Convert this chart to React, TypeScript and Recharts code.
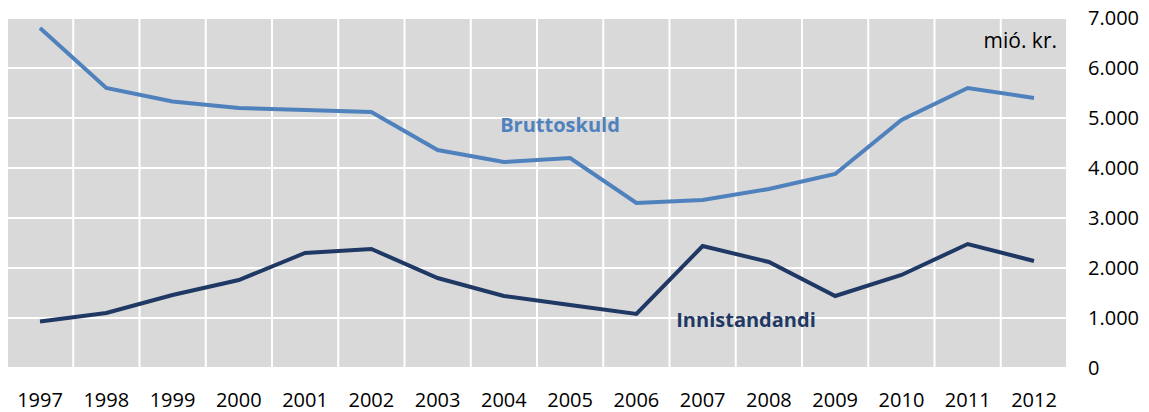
import { LineChart, Line, XAxis, YAxis, CartesianGrid } from "recharts";

const years = ["1997", "1998", "1999", "2000", "2001", "2002", "2003", "2004", "2005", "2006", "2007", "2008", "2009", "2010", "2011", "2012"];
const bruttoskuld = [6800, 5600, 5330, 5200, 5160, 5120, 4360, 4120, 4200, 3300, 3360, 3580, 3880, 4960, 5600, 5400];
const innistandandi = [930, 1100, 1460, 1760, 2300, 2380, 1800, 1440, 1260, 1080, 2440, 2120, 1440, 1860, 2480, 2140];
const yTicks = [0, 1000, 2000, 3000, 4000, 5000, 6000, 7000];

const data = years.map((year, i) => ({
  year,
  bruttoskuld: bruttoskuld[i],
  innistandandi: innistandandi[i],
}));

const W = 1149;
const H = 412;
const font = "'Open Sans', sans-serif";

// thousands separator with a dot, as in the original
const fmt = (v: number) => v.toLocaleString("de-DE");

export default function App() {
  return (
    <div style={{ position: "absolute", left: 0, top: 0, width: W, height: H, fontFamily: font }}>
      <LineChart width={W} height={H} data={data} margin={{ top: 18, right: 0, bottom: 0, left: 7 }}>
        <CartesianGrid
          fill="#d9d9d9"
          fillOpacity={1}
          stroke="#ffffff"
          strokeWidth={2}
          verticalCoordinatesGenerator={({ offset }: any) =>
            Array.from({ length: years.length + 1 }, (_, i) => offset.left + (i * offset.width) / years.length)
          }
        />
        <XAxis
          dataKey="year"
          padding={{ left: 33, right: 33 }}
          axisLine={false}
          tickLine={false}
          tickMargin={19}
          height={44}
          interval={0}
          tick={{ fontSize: 20, fill: "#000", fontFamily: font }}
        />
        <YAxis
          orientation="right"
          domain={[0, 7000]}
          ticks={yTicks}
          tickFormatter={fmt}
          axisLine={false}
          tickLine={false}
          tickMargin={15}
          width={82}
          tick={{ fontSize: 20, fill: "#000", fontFamily: font, textAnchor: "start" }}
        />
        <Line
          type="linear"
          dataKey="bruttoskuld"
          stroke="#4f81bd"
          strokeWidth={4}
          dot={false}
          isAnimationActive={false}
        />
        <Line
          type="linear"
          dataKey="innistandandi"
          stroke="#1f3864"
          strokeWidth={4}
          dot={false}
          isAnimationActive={false}
        />
      </LineChart>
      <div style={{ position: "absolute", left: 560, top: 115, transform: "translateX(-50%)", fontSize: 20, lineHeight: 1, fontWeight: 700, color: "#4f81bd", whiteSpace: "nowrap" }}>
        Bruttoskuld
      </div>
      <div style={{ position: "absolute", left: 746, top: 310, transform: "translateX(-50%)", fontSize: 20, lineHeight: 1, fontWeight: 700, color: "#1f3864", whiteSpace: "nowrap" }}>
        Innistandandi
      </div>
      <div style={{ position: "absolute", right: W - 1057, top: 30, fontSize: 21, lineHeight: 1, color: "#000", whiteSpace: "nowrap" }}>
        mió. kr.
      </div>
    </div>
  );
}
